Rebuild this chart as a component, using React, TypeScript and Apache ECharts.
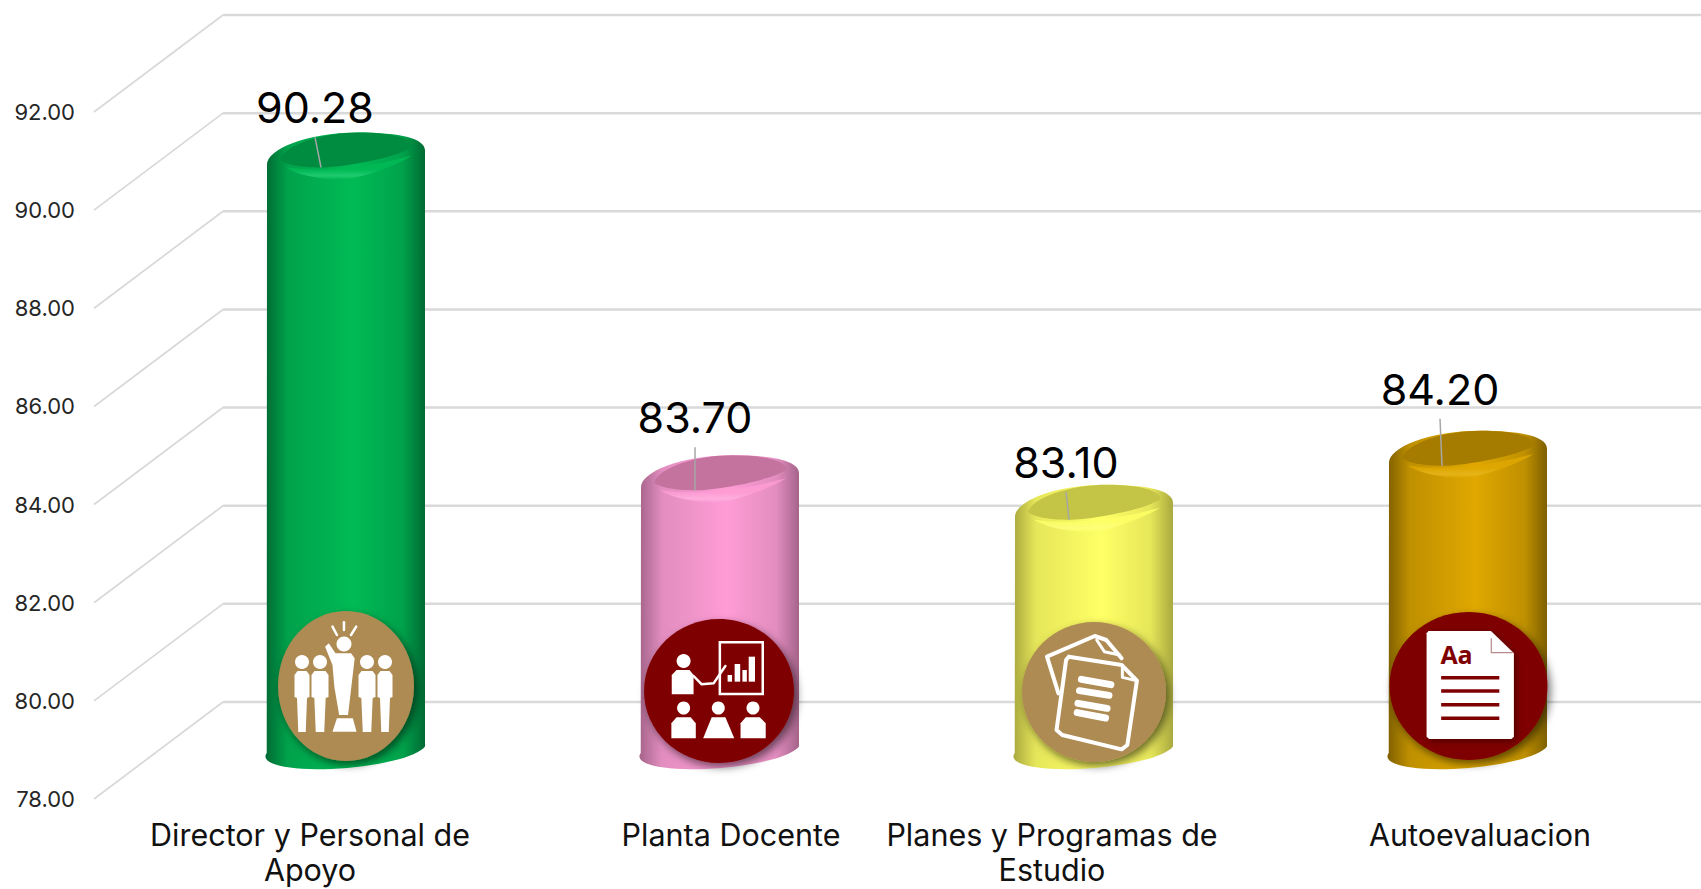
import React, { useEffect, useRef } from "react";
import * as echarts from "echarts";

const categories = ["Director y Personal de\nApoyo", "Planta Docente", "Planes y Programas de\nEstudio", "Autoevaluacion"];
const values = [90.28, 83.7, 83.1, 84.2];
const valueTicks = [78, 80, 82, 84, 86, 88, 90, 92];

// edge, shoulder, centre, top face, highlight
const shades = [
  ["#006a33", "#00a24b", "#00bb55", "#008c40", "#26d075"],
  ["#a5648a", "#e28dbf", "#ff9cd6", "#c4739f", "#ffb4e0"],
  ["#a9a93f", "#e6e65a", "#ffff66", "#c4c446", "#ffff80"],
  ["#7f6000", "#bf9000", "#e0a800", "#a67c00", "#e8b820"],
];

// hand-placed data labels: shift from the bar's centre and its value position, and leader lean
const labelDx = [-31, -25, -28, -28];
const labelDy = [-89, -102, -87, -106];
const leaderLean = [6, 0, 3, 2];
const categoryShift = [-36, 11, -42, 12];

const FONT = "Inter";
const TAN = "#ae8b52";
const MAROON = "#7f0000";
const WHITE = "#ffffff";

function pad(shift: number) {
  return shift < 0 ? [0, -2 * shift, 0, 0] : [0, 0, 0, 2 * shift];
}

function cylinderPath(cx: number, yT: number, yB: number) {
  const a = 79;
  const t = 6.5;
  const r = Math.sqrt(a * a + t * t);
  const rot = (Math.atan2(-t, a) * 180) / Math.PI;
  return (
    `M${cx - a} ${yT + 9}` +
    `C${cx - a} ${yT - 6} ${cx - 40} ${yT - 23} ${cx + 12} ${yT - 23}` +
    `C${cx + 55} ${yT - 23} ${cx + a} ${yT - 17} ${cx + a} ${yT - 5}` +
    `L${cx + a} ${yB - t}` +
    `A${r} 18 ${rot} 0 1 ${cx - a} ${yB + t}Z`
  );
}

function facePath(cx: number, y: number) {
  return (
    `M${cx - 66} ${y + 4}` +
    `C${cx - 60} ${y - 12} ${cx - 20} ${y - 23} ${cx + 12} ${y - 23}` +
    `C${cx + 45} ${y - 23} ${cx + 64} ${y - 18} ${cx + 67} ${y - 9}` +
    `C${cx + 50} ${y + 3} ${cx - 5} ${y + 12} ${cx - 25} ${y + 12}` +
    `C${cx - 45} ${y + 12} ${cx - 62} ${y + 9} ${cx - 66} ${y + 4}Z`
  );
}

function rimPath(cx: number, y: number) {
  return (
    `M${cx - 60} ${y + 12}` +
    `C${cx - 40} ${y + 24} ${cx - 5} ${y + 26} ${cx + 10} ${y + 22}` +
    `C${cx + 35} ${y + 16} ${cx + 55} ${y + 7} ${cx + 66} ${y}` +
    `C${cx + 50} ${y + 4} ${cx + 20} ${y + 13} ${cx - 25} ${y + 14}` +
    `C${cx - 40} ${y + 14} ${cx - 52} ${y + 13} ${cx - 60} ${y + 12}Z`
  );
}

function renderWall(params: any, api: any) {
  const left = params.coordSys.x - 65;
  const y = api.coord([0, api.value(1)])[1];
  return {
    type: "group",
    children: [
      { type: "line", shape: { x1: left, y1: y, x2: left + 129, y2: y - 97 }, style: { stroke: "#d9d9d9", lineWidth: 1.75 } },
      { type: "line", shape: { x1: left + 129, y1: y - 97, x2: api.getWidth(), y2: y - 97 }, style: { stroke: "#d9d9d9", lineWidth: 2.5 } },
    ],
  };
}

function renderBar(params: any, api: any) {
  const i = params.dataIndex;
  const v = api.value(1);
  const [cx, fy] = api.coord([i, v]);
  const base = api.coord([i, 78])[1];
  const yT = fy - 41;
  const yB = base - 46;
  const [edge, mid, centre, face, hi] = shades[i];
  const fill = {
    type: "linear", x: 0, y: 0, x2: 1, y2: 0,
    colorStops: [
      { offset: 0, color: edge }, { offset: 0.14, color: mid }, { offset: 0.55, color: centre },
      { offset: 0.86, color: mid }, { offset: 1, color: edge },
    ],
  };
  const rim = {
    type: "linear", x: 0, y: 0, x2: 0, y2: 1,
    colorStops: [{ offset: 0, color: centre }, { offset: 0.6, color: centre }, { offset: 0.85, color: hi }, { offset: 1, color: centre }],
  };
  const lx = cx + labelDx[i];
  const ly = fy + labelDy[i];
  return {
    type: "group",
    children: [
      { type: "path", shape: { pathData: cylinderPath(cx, yT, yB) }, style: { fill } },
      { type: "path", shape: { pathData: rimPath(cx, yT) }, style: { fill: rim, opacity: 0.8 } },
      { type: "path", shape: { pathData: facePath(cx, yT) }, style: { fill: face } },
      { type: "line", shape: { x1: lx, y1: ly + 30, x2: lx + leaderLean[i], y2: yT + 12 }, style: { stroke: "#a6a6a6", lineWidth: 1.5 } },
      { type: "text", style: { text: v.toFixed(2), x: lx, y: ly, font: `400 43px ${FONT}`, align: "center", verticalAlign: "middle", fill: "#000000" } },
    ],
  };
}

// ---- decorative badge icons (pictures in the reference) ----
const poly = (points: number[][], fill = WHITE) => ({ type: "polygon", shape: { points }, style: { fill } });
const dot = (cx: number, cy: number, r: number, fill = WHITE) => ({ type: "circle", shape: { cx, cy, r }, style: { fill } });
const seg = (a: number[], b: number[], w: number) => ({
  type: "line", shape: { x1: a[0], y1: a[1], x2: b[0], y2: b[1] }, style: { stroke: WHITE, lineWidth: w, lineCap: "round" },
});
const trace = (points: number[][], w: number) => ({
  type: "polyline", shape: { points }, style: { stroke: WHITE, lineWidth: w, fill: "none", lineJoin: "round", lineCap: "round" },
});
const badge = (cx: number, cy: number, rx: number, ry: number, fill: string) => ({
  type: "ellipse", shape: { cx, cy, rx, ry },
  style: { fill, shadowBlur: 9, shadowOffsetX: 3, shadowOffsetY: 4, shadowColor: "rgba(0,0,0,0.55)" },
});
const leftMap = (x: number, y: number) => [240 + x / 2.703, 590 + y / 3];
const rightMap = (x: number, y: number) => [980 + x / 2.613, 590 + y / 3];

function person(x: number, y0: number, y1: number, w: number) {
  return [
    dot(x, y0 - 9, 7),
    poly([
      [x - w / 2, y0 + 4], [x - w / 2 + 3, y0], [x + w / 2 - 3, y0], [x + w / 2, y0 + 4], [x + w / 2, y0 + 26],
      [x + w / 3, y0 + 27], [x + w / 4, y1], [x - w / 4, y1], [x - w / 3, y0 + 27], [x - w / 2, y0 + 26],
    ]),
  ];
}

function crowdIcon() {
  const z = leftMap;
  return [
    badge(346, 686, 68, 75, TAN),
    ...person(302, 671, 732, 15),
    ...person(320, 671, 732, 17),
    ...person(367, 671, 732, 17),
    ...person(385, 671, 732, 15),
    dot(344, 644, 7.5),
    poly([z(230, 170), z(240, 160), z(258, 190), z(300, 190), z(310, 205), z(300, 300), z(292, 375), z(268, 375), z(255, 290), z(250, 225)]),
    poly([z(262, 385), z(305, 385), z(315, 425), z(250, 425)]),
    seg(z(281, 97), z(281, 120), 2.5),
    seg(z(250, 110), z(262, 135), 2.5),
    seg(z(314, 110), z(300, 135), 2.5),
  ];
}

function classIcon() {
  const z = leftMap;
  const bar = (x0: number, x1: number, y0: number) => poly([z(x0, y0), z(x1, y0), z(x1, 275), z(x0, 275)]);
  const [bx0, by0] = z(1297, 157);
  const [bx1, by1] = z(1413, 312);
  return [
    badge(719, 691, 75, 72, MAROON),
    dot(683.6, 661, 7),
    poly([z(1167, 255), z(1180, 240), z(1215, 240), z(1226, 255), z(1226, 313), z(1167, 313)]),
    trace([z(1226, 258), z(1248, 283), z(1280, 280), z(1312, 228)], 2.5),
    { type: "rect", shape: { x: bx0, y: by0, width: bx1 - bx0, height: by1 - by0 }, style: { stroke: WHITE, lineWidth: 2.5, fill: "none" } },
    bar(1318, 1330, 255), bar(1337, 1352, 222), bar(1358, 1370, 240), bar(1375, 1392, 200),
    dot(683.6, 708, 6.5), dot(718.3, 708, 6.5), dot(753, 708, 6.5),
    poly([z(1166, 400), z(1180, 382), z(1218, 382), z(1232, 400), z(1232, 445), z(1166, 445)]),
    poly([z(1252, 445), z(1275, 382), z(1312, 382), z(1336, 445)]),
    poly([z(1353, 400), z(1367, 382), z(1405, 382), z(1421, 400), z(1421, 445), z(1353, 445)]),
  ];
}

function papersIcon() {
  const z = rightMap;
  return [
    badge(1094, 692, 72, 70, TAN),
    trace([z(205, 310), z(175, 200), z(300, 138), z(330, 150), z(370, 205)], 4),
    trace([z(232, 200), z(370, 225), z(410, 272), z(385, 465), z(370, 478), z(215, 435), z(200, 420), z(225, 210), z(232, 200)], 4),
    trace([z(305, 150), z(325, 185), z(365, 195)], 3),
    trace([z(372, 230), z(372, 262), z(408, 272)], 3),
    seg(z(265, 268), z(342, 284), 7),
    seg(z(260, 302), z(337, 316), 7),
    seg(z(256, 340), z(332, 355), 7),
    seg(z(254, 368), z(328, 384), 7),
  ];
}

function documentIcon() {
  const z = rightMap;
  const rule = (y: number) => {
    const [a, b] = z(1205, y);
    const [c] = z(1357, y);
    return { type: "line", shape: { x1: a, y1: b, x2: c, y2: b }, style: { stroke: MAROON, lineWidth: 3.5 } };
  };
  const [tx, ty] = z(1203, 192);
  return [
    badge(1468.5, 686, 79, 74, MAROON),
    {
      ...poly([z(1172, 123), z(1335, 123), z(1395, 190), z(1395, 440), z(1388, 447), z(1174, 447), z(1167, 440), z(1167, 130)]),
      style: { fill: WHITE, shadowBlur: 6, shadowOffsetX: 2, shadowOffsetY: 2, shadowColor: "rgba(0,0,0,0.4)" },
    },
    { type: "polyline", shape: { points: [z(1336, 145), z(1336, 188), z(1392, 188)] }, style: { stroke: "#b98a8a", lineWidth: 1.2, fill: "none" } },
    { type: "text", style: { text: "Aa", x: tx, y: ty, font: `700 25px "Open Sans"`, fill: MAROON, align: "left", verticalAlign: "middle" } },
    rule(263), rule(303), rule(344), rule(385),
  ];
}

function renderIcons() {
  return { type: "group", children: [...crowdIcon(), ...classIcon(), ...papersIcon(), ...documentIcon()] };
}

export default function App() {
  const ref = useRef<HTMLDivElement>(null);
  useEffect(() => {
    const chart = echarts.init(ref.current!, undefined, { renderer: "svg" });
    chart.setOption({
      animation: false,
      backgroundColor: "#ffffff",
      grid: { left: 159, top: 112, width: 1496, height: 687, containLabel: false, outerBoundsMode: "none" },
      xAxis: {
        type: "category",
        data: categories.map((c, i) => ({ value: c, textStyle: { padding: pad(categoryShift[i]) } })),
        axisLine: { show: false },
        axisTick: { show: false },
        axisLabel: {
          interval: 0, margin: 18, fontFamily: FONT, fontSize: 30.5, lineHeight: 35, color: "#111111", hideOverlap: false,
        },
      },
      yAxis: {
        type: "value",
        min: 78,
        max: 92,
        interval: 2,
        axisLine: { show: false },
        axisTick: { show: false },
        splitLine: { show: false },
        axisLabel: {
          margin: 84, fontFamily: FONT, fontSize: 22, color: "#262626",
          formatter: (v: number) => v.toFixed(2),
        },
      },
      series: [
        { type: "custom", z: 1, silent: true, renderItem: renderWall, encode: { x: 0, y: 1 }, data: valueTicks.map((t) => [0, t]) },
        { type: "custom", z: 2, silent: true, renderItem: renderBar, encode: { x: 0, y: 1 }, data: values.map((v, i) => [i, v]) },
        { type: "custom", z: 3, silent: true, renderItem: renderIcons, encode: { x: 0, y: 1 }, data: [[0, 78]] },
      ],
    });
    return () => chart.dispose();
  }, []);
  return <div ref={ref} style={{ position: "fixed", left: 0, top: 0, width: 1701, height: 889 }} />;
}
